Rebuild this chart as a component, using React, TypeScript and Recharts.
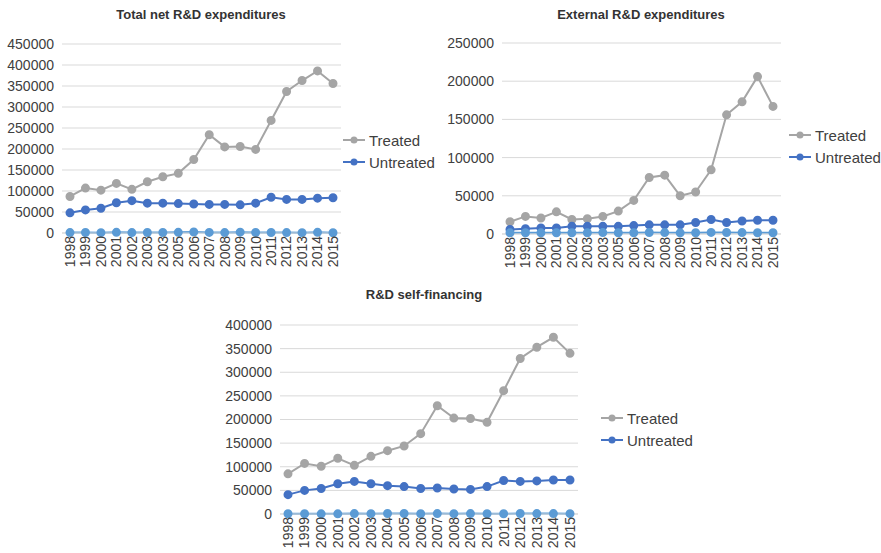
import React from "react";
import { LineChart, Line, XAxis, YAxis, CartesianGrid } from "recharts";

// year labels as printed in the source charts (the top two repeat "2003")
const yearsTop = ["1998", "1999", "2000", "2001", "2002", "2003", "2003", "2005", "2006", "2007", "2008", "2009", "2010", "2011", "2012", "2013", "2014", "2015"];
const yearsBottom = ["1998", "1999", "2000", "2001", "2002", "2003", "2004", "2005", "2006", "2007", "2008", "2009", "2010", "2011", "2012", "2013", "2014", "2015"];

// Total net R&D expenditures
const totalTreated = [87000, 107000, 102000, 118000, 104000, 122000, 134000, 142000, 175000, 234000, 205000, 206000, 199000, 268000, 337000, 363000, 386000, 356000];
const totalUntreated = [48000, 55000, 59000, 72000, 77000, 71000, 71000, 70000, 69000, 68000, 68000, 67000, 71000, 85000, 80000, 80000, 83000, 84000];
const totalOther = [1000, 1200, 800, 1500, 900, 1300, 1100, 1600, 2500, 1400, 1000, 2000, 1200, 1300, 900, 800, 1500, 700];

// External R&D expenditures
const extTreated = [16000, 23000, 21000, 29000, 19000, 20000, 23000, 30000, 44000, 74000, 77000, 50000, 55000, 84000, 156000, 173000, 206000, 167000];
const extUntreated = [6000, 7000, 8000, 8000, 10000, 10000, 10000, 10000, 11000, 12000, 12000, 12000, 15000, 19000, 15000, 17000, 18000, 18000];
const extOther = [1500, 1600, 1500, 1700, 1600, 1600, 1800, 1700, 1600, 1900, 1800, 1500, 1700, 2100, 2000, 1800, 1700, 1600];

// R&D self-financing
const selfTreated = [85000, 107000, 101000, 118000, 103000, 122000, 134000, 144000, 170000, 229000, 203000, 202000, 194000, 261000, 329000, 353000, 374000, 340000];
const selfUntreated = [41000, 50000, 54000, 64000, 69000, 64000, 60000, 58000, 54000, 55000, 53000, 52000, 58000, 71000, 69000, 70000, 72000, 72000];
const selfOther = [500, 600, 400, 300, 900, 700, 1000, 1100, 600, 800, 700, 900, 600, 500, 1000, 900, 800, 700];

const FONT = "'Liberation Sans', Arial, sans-serif";
const TEXT = "#404040";
const GRAY = "#A5A5A5";
const BLUE = "#4472C4";
const LIGHT = "#5B9BD5";

const build = (years: string[], a: number[], b: number[], c: number[]) =>
  years.map((year, i) => ({ year, treated: a[i], untreated: b[i], other: c[i] }));

const YearTick = (props: any) => {
  const { x, y, payload } = props;
  return (
    <g transform={`translate(${x},${y})`}>
      <text transform="rotate(-90)" textAnchor="end" dy="0.35em" fill={TEXT} fontSize={14} fontFamily={FONT}>
        {payload.value}
      </text>
    </g>
  );
};

const LegendBox = ({ left, top }: { left: number; top: number }) => (
  <div style={{ position: "absolute", left, top, fontFamily: FONT, fontSize: 15, color: TEXT }}>
    {[
      { name: "Treated", color: GRAY },
      { name: "Untreated", color: BLUE },
    ].map((s) => (
      <div key={s.name} style={{ display: "flex", alignItems: "center", height: 22 }}>
        <svg width={26} height={10}>
          <line x1={0} y1={5} x2={22} y2={5} stroke={s.color} strokeWidth={2} />
          <circle cx={11} cy={5} r={3.5} fill={s.color} />
        </svg>
        <span>{s.name}</span>
      </div>
    ))}
  </div>
);

interface PanelProps {
  left: number;
  top: number;
  width: number;
  height: number;
  title: string;
  titleX: number;
  data: any[];
  max: number;
  yWidth: number;
  marginTop: number;
  pad: number;
}

const Panel = ({ left, top, width, height, title, titleX, data, max, yWidth, marginTop, pad }: PanelProps) => {
  const ticks: number[] = [];
  for (let v = 0; v <= max; v += 50000) ticks.push(v);
  return (
    <div style={{ position: "absolute", left, top, width, height }}>
      <div
        style={{
          position: "absolute",
          left: titleX - 150,
          width: 300,
          top: 7,
          textAlign: "center",
          fontFamily: FONT,
          fontWeight: "bold",
          fontSize: 13,
          color: "#333",
        }}
      >
        {title}
      </div>
      <LineChart width={width} height={height} data={data} margin={{ top: marginTop, right: 4, bottom: 0, left: 0 }}>
        <CartesianGrid vertical={false} stroke="#D9D9D9" />
        <XAxis
          dataKey="year"
          interval={0}
          tick={<YearTick />}
          tickLine={false}
          tickSize={0}
          tickMargin={3}
          axisLine={{ stroke: "#D9D9D9" }}
          height={40}
          padding={{ left: pad, right: pad }}
        />
        <YAxis
          domain={[0, max]}
          ticks={ticks}
          interval={0}
          axisLine={false}
          tickLine={false}
          width={yWidth}
          tick={{ fill: TEXT, fontSize: 14, fontFamily: FONT }}
        />
        <Line dataKey="treated" stroke={GRAY} strokeWidth={2} dot={{ r: 3.5, fill: GRAY, stroke: GRAY }} isAnimationActive={false} />
        <Line dataKey="untreated" stroke={BLUE} strokeWidth={2} dot={{ r: 3.5, fill: BLUE, stroke: BLUE }} isAnimationActive={false} />
        <Line dataKey="other" stroke={LIGHT} strokeWidth={2} dot={{ r: 3.5, fill: LIGHT, stroke: LIGHT }} isAnimationActive={false} />
      </LineChart>
    </div>
  );
};

export default function App() {
  return (
    <div style={{ position: "absolute", left: 0, top: 0, width: 881, height: 553, background: "#fff", overflow: "hidden" }}>
      <Panel
        left={0}
        top={0}
        width={345}
        height={273}
        title="Total net R&D expenditures"
        titleX={201}
        data={build(yearsTop, totalTreated, totalUntreated, totalOther)}
        max={450000}
        yWidth={62}
        marginTop={44}
        pad={8}
      />
      <LegendBox left={343} top={129} />
      <Panel
        left={440}
        top={0}
        width={345}
        height={274}
        title="External R&D expenditures"
        titleX={201}
        data={build(yearsTop, extTreated, extUntreated, extOther)}
        max={250000}
        yWidth={62}
        marginTop={43}
        pad={8}
      />
      <LegendBox left={789} top={124} />
      <Panel
        left={210}
        top={280}
        width={372}
        height={274}
        title="R&D self-financing"
        titleX={214}
        data={build(yearsBottom, selfTreated, selfUntreated, selfOther)}
        max={400000}
        yWidth={70}
        marginTop={45}
        pad={8}
      />
      <LegendBox left={601} top={407} />
    </div>
  );
}
